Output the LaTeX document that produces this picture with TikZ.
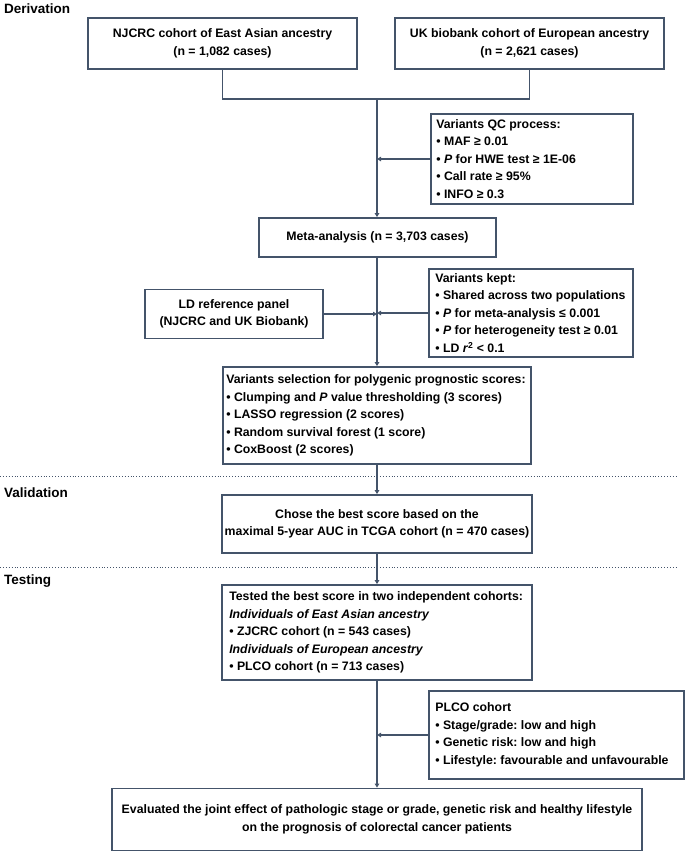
\documentclass[tikz,border=0pt]{standalone}
\usepackage{fontspec}
\setmainfont{Liberation Sans}
\usetikzlibrary{arrows.meta}
\definecolor{edge}{RGB}{68,84,106}
\frenchspacing
\begin{document}
\begin{tikzpicture}[x=1pt,y=-1pt,
  txt/.style={inner sep=0pt, text=black, align=left,
    font=\frenchspacing\bfseries\fontsize{12.3}{17.5}\selectfont},
  box/.style={draw=edge, line width=1.8pt, inner sep=0pt, text=black,
    font=\frenchspacing\bfseries\fontsize{12.3}{17.5}\selectfont},
  cbox/.style={box, align=center},
  frame/.style={draw=edge, line width=1.8pt, inner sep=0pt},
  conn/.style={draw=edge, line width=1.8pt},
  arr/.style={conn, -{Triangle[length=4pt,width=4.5pt]}},
  sect/.style={font=\bfseries\fontsize{13.5}{16}\selectfont, anchor=west, inner sep=0pt},
  sep/.style={draw=edge, line width=0.9pt, dotted}]
\useasboundingbox (0,0) rectangle (685,852);

% section labels
\node[sect] (lder) at (4,9) {Derivation};
\node[sect] (lval) at (4,493) {Validation};
\node[sect] (ltest) at (4,581) {Testing};

% separators
\coordinate (s1a) at (0,476); \coordinate (s1b) at (676,476);
\coordinate (s2a) at (0,567); \coordinate (s2b) at (676,567);
\draw[sep] (s1a) -- (s1b);
\draw[sep] (s2a) -- (s2b);

% centred boxes
\node[cbox, minimum width=269, minimum height=51] (nj) at (222.5,43.5)
  {NJCRC cohort of East Asian ancestry\\(n = 1,082 cases)};
\node[cbox, minimum width=269, minimum height=51] (uk) at (529.5,43.5)
  {UK biobank cohort of European ancestry\\(n = 2,621 cases)};
\node[cbox, minimum width=237, minimum height=39] (meta) at (377.5,237.5)
  {Meta-analysis (n = 3,703 cases)};
\node[cbox, minimum width=178, minimum height=49] (ld) at (234,314)
  {LD reference panel\\(NJCRC and UK Biobank)};
\node[cbox, minimum width=310, minimum height=58] (val) at (377,524)
  {Chose the best score based on the\\maximal 5-year AUC in TCGA cohort (n = 470 cases)};
\node[cbox, minimum width=530, minimum height=62] (final) at (377,819.5)
  {Evaluated the joint effect of pathologic stage or grade, genetic risk and healthy lifestyle\\on the prognosis of colorectal cancer patients};

% left-aligned boxes: frame + text
\node[frame, minimum width=202, minimum height=90] (qc) at (532,159) {};
\node[txt, anchor=west] (qct) at ([xshift=6pt]qc.west)
  {Variants QC process:\\
   • MAF ≥ 0.01\\
   • \textit{P} for HWE test ≥ 1E-06\\
   • Call rate ≥ 95\%\\
   • INFO ≥ 0.3};
\node[frame, minimum width=204, minimum height=88] (kept) at (531,313) {};
\node[txt, anchor=west] (keptt) at ([xshift=7pt]kept.west)
  {Variants kept:\\
   • Shared across two populations\\
   • \textit{P} for meta-analysis ≤ 0.001\\
   • \textit{P} for heterogeneity test ≥ 0.01\\
   • LD \textit{r}\textsuperscript{2} < 0.1};
\node[frame, minimum width=308, minimum height=97] (sel) at (377,415.5) {};
\node[txt, anchor=west] (selt) at ([xshift=4pt]sel.west)
  {Variants selection for polygenic prognostic scores:\\
   • Clumping and \textit{P} value thresholding (3 scores)\\
   • LASSO regression (2 scores)\\
   • Random survival forest (1 score)\\
   • CoxBoost (2 scores)};
\node[frame, minimum width=310, minimum height=95] (test) at (377,632.5) {};
\node[txt, anchor=west] (testt) at ([xshift=8pt]test.west)
  {Tested the best score in two independent cohorts:\\
   \textit{Individuals of East Asian ancestry}\\
   • ZJCRC cohort (n = 543 cases)\\
   \textit{Individuals of European ancestry}\\
   • PLCO cohort (n = 713 cases)};
\node[frame, minimum width=255, minimum height=88] (plco) at (556.5,735) {};
\node[txt, anchor=west] (plcot) at ([xshift=7pt]plco.west)
  {PLCO cohort\\
   • Stage/grade: low and high\\
   • Genetic risk: low and high\\
   • Lifestyle: favourable and unfavourable};

% connectors
\coordinate (jm) at (377,99);
\draw[conn] (nj.south) -- (nj.south |- jm) -- (uk.south |- jm) -- (uk.south);
\draw[arr] (jm) -- (jm |- meta.north);
\draw[arr] (qc.west) -- (qc.west -| jm);
\draw[arr] (meta.south -| jm) -- (jm |- sel.north);
\draw[arr] (ld.east) -- (ld.east -| jm);
\draw[arr] (kept.west) -- (kept.west -| jm);
\draw[arr] (sel.south) -- (val.north);
\draw[arr] (val.south) -- (test.north);
\draw[arr] (test.south) -- (final.north);
\draw[arr] (plco.west) -- (plco.west -| jm);
\end{tikzpicture}
\end{document}
